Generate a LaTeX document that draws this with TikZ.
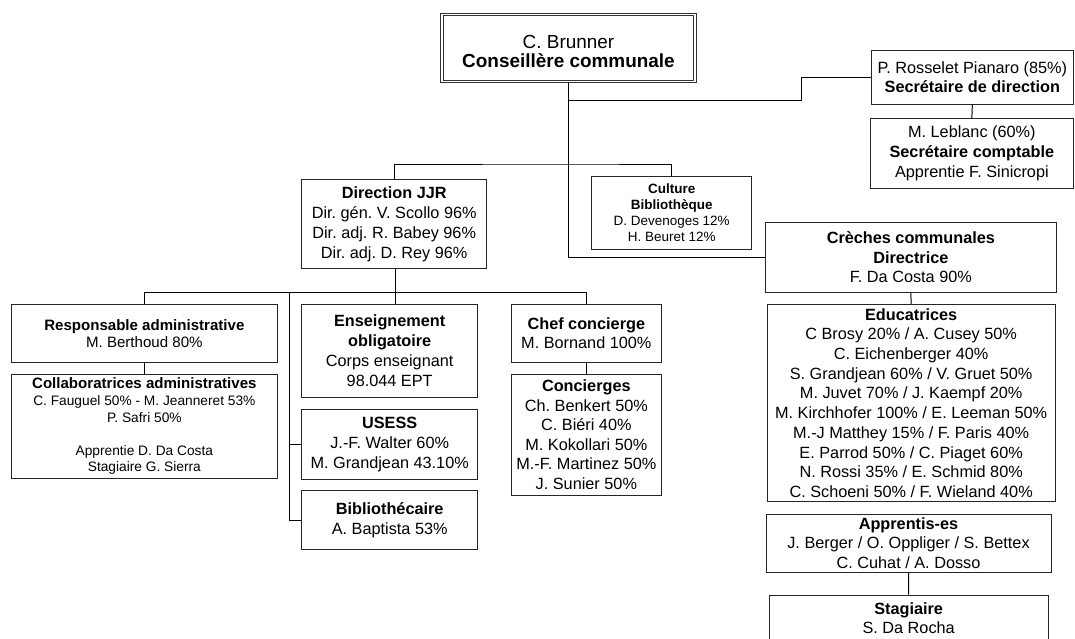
\documentclass[tikz,border=0pt]{standalone}
\usepackage{fontspec}
\setmainfont{Liberation Sans}
\frenchspacing
\tikzset{
  box/.style={draw=black!85, line width=0.75pt, fill=white, align=center, inner sep=0pt,
    font=\fontsize{12.2}{14.8}\selectfont},
  sz/.style 2 args={minimum width=#1pt, minimum height=#2pt},
  smallbox/.style={box, font=\fontsize{10.1}{11.9}\selectfont},
  midbox/.style={box, font=\fontsize{11.3}{13}\selectfont},
  topbox/.style={box, double, double distance=1.4pt, line width=0.6pt, draw=black!80},
  toptext/.style={align=center, inner sep=0pt, font=\fontsize{14.2}{14.6}\selectfont},
  conn/.style={draw=black, line width=0.75pt}
}
\begin{document}
\begin{tikzpicture}[x=0.75pt,y=-0.75pt]
\useasboundingbox (0,0) rectangle (1075,639);
\fill[white] (0,0) rectangle (1075,639);
\clip (0,0) rectangle (1075,639);

% nodes
\node[topbox, sz={189.75}{50.25},
  label={[toptext, yshift=-2.6pt]center:C. Brunner\\\textbf{Conseillère communale}}] (top) at (568.5,48) {};
\node[box, sz={150.975}{40.725}] (ros) at (972.35,77.15) {P. Rosselet Pianaro (85\%)\\\textbf{Secrétaire de direction}};
\node[box, sz={151.725}{52.5}] (leb) at (971.85,153.3) {M. Leblanc (60\%)\\\textbf{Secrétaire comptable}\\Apprentie F. Sinicropi};
\node[box, sz={138.75}{66.75}, font=\fontsize{12.2}{15}\selectfont] (dir) at (394.2,223.8) {\textbf{Direction JJR}\\Dir. gén. V. Scollo 96\%\\Dir. adj. R. Babey 96\%\\Dir. adj. D. Rey 96\%};
\node[smallbox, sz={120}{54.975}] (cult) at (671.7,212.65) {\textbf{Culture}\\\textbf{Bibliothèque}\\D. Devenoges 12\%\\H. Beuret 12\%};
\node[box, sz={218.775}{52.5}] (cre) at (910.85,257.3) {\textbf{Crèches communales}\\\textbf{Directrice}\\F. Da Costa 90\%};
\node[box, sz={215.775}{148.05}] (edu) at (911.15,403) {\textbf{Educatrices}\\C Brosy 20\% / A. Cusey 50\%\\C. Eichenberger 40\%\\S. Grandjean 60\% / V. Gruet 50\%\\M. Juvet 70\% / J. Kaempf 20\%\\M. Kirchhofer 100\% / E. Leeman 50\%\\M.-J Matthey 15\% / F. Paris 40\%\\E. Parrod 50\% / C. Piaget 60\%\\N. Rossi 35\% / E. Schmid 80\%\\C. Schoeni 50\% / F. Wieland 40\%};
\node[box, sz={213.75}{43.725}] (app) at (908.5,543.15) {\textbf{Apprentis-es}\\J. Berger / O. Oppliger / S. Bettex\\C. Cuhat / A. Dosso};
\node[box, sz={209.475}{34.95}] (stag) at (908.65,618.3) {\textbf{Stagiaire}\\S. Da Rocha};
\node[midbox, sz={200.025}{43.5}] (resp) at (144.35,333.3) {\textbf{Responsable administrative}\\M. Berthoud 80\%};
\node[box, sz={200.025}{78}, font=\fontsize{10.3}{12.45}\selectfont] (coll) at (144.35,426.3) {{\fontsize{11.3}{12.45}\selectfont\textbf{Collaboratrices administratives}}\\C. Fauguel 50\% - M. Jeanneret 53\%\\P. Safri 50\%\\[12.45pt]Apprentie D. Da Costa\\Stagiaire G. Sierra};
\node[box, sz={132}{69.975}] (ens) at (389.7,350.65) {\textbf{Enseignement}\\\textbf{obligatoire}\\Corps enseignant\\98.044 EPT};
\node[box, sz={132}{52.5}] (usess) at (389.7,444.3) {\textbf{USESS}\\J.-F. Walter 60\%\\M. Grandjean 43.10\%};
\node[box, sz={132}{43.95}] (bib) at (389.7,520) {\textbf{Bibliothécaire}\\A. Baptista 53\%};
\node[box, sz={113.025}{43.5}] (chef) at (586.35,333.3) {\textbf{Chef concierge}\\M. Bornand 100\%};
\node[box, sz={113.025}{90.525}, font=\fontsize{12.2}{14.7}\selectfont] (conc) at (586.35,434.65) {\textbf{Concierges}\\Ch. Benkert 50\%\\C. Biéri 40\%\\M. Kokollari 50\%\\M.-F. Martinez 50\%\\J. Sunier 50\%};

% junction coordinates
\coordinate (j1) at (568.5,100);
\coordinate (k1) at (801,100);
\coordinate (b1) at (568.5,164);
\coordinate (b2) at (395,292.3);
\coordinate (lb) at (289.3,292.3);

% connectors
\draw[conn] (top.south) |- (cre.west);
\draw[conn] (j1) -- (k1) |- (ros.west);
\draw[conn] (ros.south) -- (leb.north);
\draw[conn] (dir.north) |- (b1) -| (cult.north);
\draw[conn] (cre.south) -- (edu.north);
\draw[conn] (app.south) -- (stag.north);
\draw[conn] (b2 |- dir.south) -- (b2);
\draw[conn] (resp.north) |- (b2) -| (chef.north);
\draw[conn] (b2) -- (b2 |- ens.north);
\draw[conn] (lb) |- (bib.west);
\draw[conn] (lb |- usess.west) -- (usess.west);
\draw[conn] (resp.south) -- (coll.north);
\draw[conn] (chef.south) -- (conc.north);
\end{tikzpicture}
\end{document}
